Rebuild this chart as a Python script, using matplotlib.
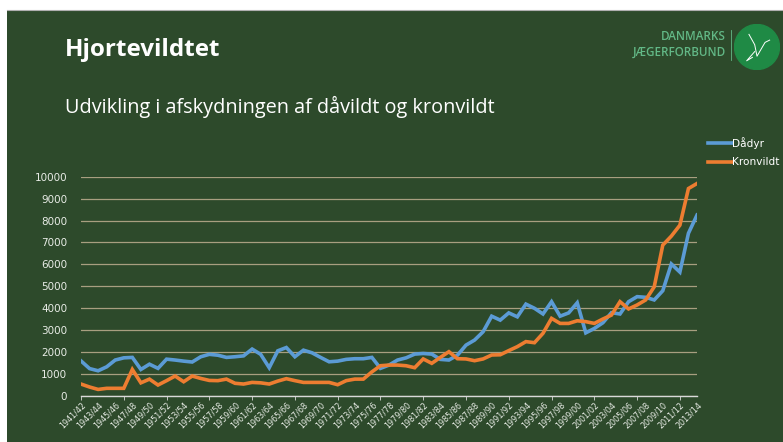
import matplotlib.pyplot as plt
from matplotlib.patches import Circle, Rectangle

# Hunting seasons 1941/42 .. 2013/14
seasons = [f"{y}/{(y + 1) % 100:02d}" for y in range(1941, 2014)]

daadyr = [
    1600, 1250, 1150, 1330, 1640, 1740, 1760, 1210, 1450, 1260,
    1680, 1640, 1590, 1550, 1790, 1900, 1860, 1760, 1790, 1830,
    2140, 1900, 1290, 2060, 2210, 1790, 2090, 1970, 1760, 1560,
    1590, 1670, 1700, 1700, 1760, 1260, 1410, 1640, 1740, 1910,
    1940, 1910, 1670, 1640, 1860, 2320, 2550, 2930, 3640, 3460,
    3790, 3610, 4190, 4000, 3740, 4300, 3640, 3790, 4250, 2880,
    3080, 3340, 3800, 3740, 4300, 4530, 4500, 4380, 4800, 6020,
    5650, 7420, 8250,
]

kronvildt = [
    545, 410, 300, 350, 350, 350, 1210, 600, 770, 500,
    700, 910, 650, 910, 800, 710, 700, 770, 580, 545,
    620, 600, 545, 680, 790, 700, 620, 620, 620, 620,
    515, 700, 770, 770, 1100, 1380, 1410, 1410, 1380, 1290,
    1690, 1490, 1760, 2020, 1700, 1690, 1610, 1690, 1870, 1880,
    2070, 2250, 2480, 2430, 2860, 3540, 3310, 3310, 3430, 3390,
    3310, 3510, 3690, 4300, 3970, 4150, 4380, 4980, 6880, 7290,
    7790, 9460, 9690,
]

BG = "#2d4a2b"
TXT = "#e8ece6"
GRID = "#a89f80"

fig = plt.figure(figsize=(7.83, 4.42), dpi=100)
fig.patch.set_facecolor("white")
# slide background (small white margin top/left as in the screenshot)
fig.add_artist(Rectangle((7 / 783, 0), 1, 1 - 10 / 442, transform=fig.transFigure,
                         facecolor=BG, edgecolor="none", zorder=0))
fig.add_artist(plt.Line2D([7 / 783, 1], [1 - 10 / 442] * 2, transform=fig.transFigure,
                          color="#b0b0b0", lw=0.8))

fig.text(65 / 783, 1 - 50 / 442, "Hjortevildtet", color="white", fontsize=17.5,
         fontweight="bold", family="Open Sans", va="center")
fig.text(65 / 783, 1 - 107 / 442, "Udvikling i afskydningen af dåvildt og kronvildt",
         color="white", fontsize=14.3, family="Open Sans", va="center")

# logo
logo_green = "#62b886"
fig.text(726 / 783, 1 - 37 / 442, "DANMARKS", color=logo_green, fontsize=8.4,
         ha="right", va="center", family="Open Sans", fontweight="semibold")
fig.text(726 / 783, 1 - 52 / 442, "JÆGERFORBUND", color=logo_green, fontsize=8.4,
         ha="right", va="center", family="Open Sans", fontweight="semibold")
fig.add_artist(plt.Line2D([731 / 783] * 2, [1 - 30 / 442, 1 - 60 / 442],
                          transform=fig.transFigure, color=logo_green, lw=0.6))
lax = fig.add_axes([734 / 783, 1 - 70 / 442, 46 / 783, 46 / 442])
lax.set_xlim(-1, 1)
lax.set_ylim(-1, 1)
lax.set_aspect("equal")
lax.axis("off")
lax.add_patch(Circle((0, 0), 0.98, color="#1f8a45"))
lax.plot([-0.35, -0.1, 0.0, 0.35, 0.55], [0.55, 0.1, -0.4, 0.2, 0.3], color="white", lw=0.7)
lax.plot([-0.2, -0.45, -0.1], [-0.45, -0.6, -0.2], color="white", lw=0.7)

ax = fig.add_axes([81 / 783, 46 / 442, 616 / 783, 219.3 / 442])
ax.set_facecolor("none")
x = list(range(len(seasons)))
ax.plot(x, daadyr, color="#5b9bd5", lw=2.6, label="Dådyr", solid_joinstyle="miter")
ax.plot(x, kronvildt, color="#ed7d31", lw=2.6, label="Kronvildt", solid_joinstyle="miter")

ax.set_xlim(0, len(seasons) - 1)
ax.set_ylim(0, 10000)
ax.set_yticks(range(0, 10001, 1000))
ax.grid(axis="y", color=GRID, lw=0.9)
ax.set_axisbelow(True)
for s in ("top", "right", "left"):
    ax.spines[s].set_visible(False)
ax.spines["bottom"].set_color("#d9d9d9")
ax.spines["bottom"].set_linewidth(1.0)
ax.tick_params(axis="y", length=0, colors=TXT, labelsize=7.5, pad=10)

# labels every second season, tick marks every fifth
ax.xaxis.remove_overlapping_locs = False
ax.set_xticks(range(0, len(seasons), 2))
ax.set_xticklabels(seasons[::2], rotation=45, ha="right",
                   rotation_mode="anchor", fontsize=5.8, color=TXT)
ax.tick_params(axis="x", which="major", length=0, pad=3)
ax.set_xticks(range(0, len(seasons), 5), minor=True)
ax.tick_params(axis="x", which="minor", length=3, color="#d9d9d9")

leg = ax.legend(loc="upper left", bbox_to_anchor=(1.003, 1.225), frameon=False,
                fontsize=7.6, labelcolor="white", handlelength=2.2, handletextpad=0.05,
                labelspacing=0.8)

fig.savefig("out.png", dpi=100, facecolor=fig.get_facecolor())
